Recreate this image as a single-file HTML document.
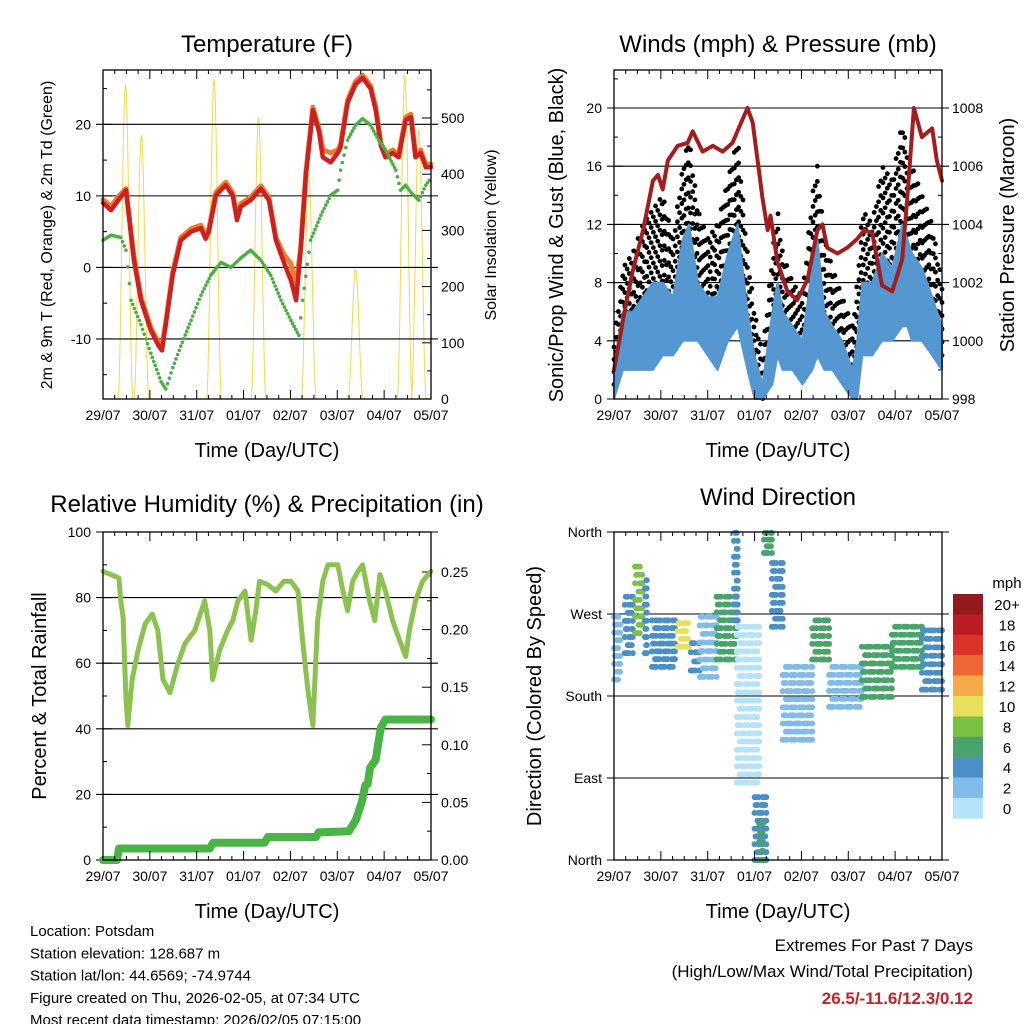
<!DOCTYPE html>
<html><head><meta charset="utf-8">
<style>
html,body{margin:0;padding:0;background:#fff;}
svg{display:block;font-family:"Liberation Sans",sans-serif;}
</style></head>
<body>
<svg id="c" width="1024" height="1024" viewBox="0 0 1024 1024" xmlns="http://www.w3.org/2000/svg"></svg>
<script>
// ---------- DATA ----------
const dayLabels = ["29/07","30/07","31/07","01/07","02/07","03/07","04/07","05/07"];
const tempT = [0,.17,.34,.49,.66,.81,1.02,1.19,1.26,1.34,1.49,1.66,1.88,2.09,2.19,2.26,2.41,2.62,2.77,2.86,2.94,3.15,3.37,3.54,3.69,3.86,4.01,4.12,4.22,4.33,4.48,4.61,4.69,4.86,5.01,5.07,5.22,5.39,5.54,5.71,5.82,5.93,6.03,6.18,6.31,6.46,6.57,6.67,6.78,6.89,7];
const tempRed = [9,8,9.5,10.8,1,-4.6,-8.8,-11,-11.6,-8,-1,3.8,5,5.5,4,5,10.1,11.5,10,6.6,8.5,9.4,11,9.4,3.8,0.7,-1.8,-4.6,2.4,12.9,22,19,15.4,14.7,16,16.8,23,25.6,26.5,25,22,17,15.4,16,15.4,20.6,21,15.4,16,14,14];
const tempOrange = [9.5,8.5,10,11,1.5,-4.2,-8.4,-10.6,-11.2,-7.6,-0.6,4.2,5.4,5.9,4.4,5.4,10.5,11.9,10.4,7,8.9,9.8,11.4,9.8,4.2,1.8,0.5,-2.5,2.8,13.3,22.4,19.4,16.5,16,16.4,17.2,23.4,26,26.9,25.4,22.4,17.4,15.8,16.4,15.8,21,21.4,15.8,16.4,14.4,14.4];
const dewT = [0,.17,.38,.49,.6,.81,1.02,1.24,1.34,1.49,1.66,1.88,2.09,2.3,2.52,2.73,2.94,3.15,3.37,3.58,3.8,4.01,4.18,4.26,4.43,4.65,4.86,5.01,5.07,5.22,5.39,5.54,5.71,5.88,6.03,6.25,6.35,6.46,6.57,6.74,6.89,7];
const dewGreen = [3.8,4.5,4.2,2.4,-4.6,-8,-12,-16,-17,-14,-11,-7.4,-3.9,-1.1,0.7,0,1.3,2.4,1,-1.1,-4.6,-7.4,-9.5,-4.6,3.8,7.3,10.1,10.8,13.6,17.8,19.9,20.8,19.9,17.8,16.4,13.6,10.8,11.5,10.5,9.4,11.5,12.5];
const solarPeakT = [0.48,0.82,2.37,3.32,4.39,5.39,6.44,6.74];
const solarPeakV = [560,470,570,500,400,230,575,480];
const presT = [0,.19,.4,.62,.83,.94,1.04,1.15,1.36,1.57,1.68,1.89,2.11,2.32,2.53,2.74,2.85,2.96,3.17,3.28,3.34,3.49,3.7,3.91,4.13,4.34,4.45,4.55,4.77,4.98,5.19,5.34,5.51,5.72,5.94,6.15,6.26,6.4,6.57,6.79,6.89,7];
const presV = [999,1000.7,1002.4,1003.8,1005.5,1005.7,1005.2,1006.2,1006.7,1006.8,1007.2,1006.5,1006.7,1006.5,1006.8,1007.6,1008,1007.5,1004.9,1003.8,1004.3,1002.7,1001.7,1001.4,1002.1,1003.8,1004,1003.2,1003,1003.2,1003.5,1003.8,1003.7,1001.9,1001.7,1002.8,1004.9,1008,1007,1007.3,1006.2,1005.5];
const windT = [0,.19,.4,.62,.83,1.04,1.26,1.47,1.6,1.79,2,2.21,2.43,2.64,2.85,3,3.17,3.38,3.49,3.6,3.81,4.02,4.23,4.34,4.49,4.66,4.87,5.09,5.19,5.3,5.51,5.72,5.94,6.15,6.26,6.36,6.57,6.79,7];
const windLo = [0,2,2,2,2,3,3,4,4,4,3,2,4,5,2,0,0,1,3,2,2,1,2,3,2,2,1,0,0,3,3,4,4,5,5,4,4,3,2];
const windHi = [2,6,6,7,8,8,7,11,12,8,7,7,10,12,6,3,1,6,8,6,5,4,9,11,6,5,4,2,4,8,8,10,9,12,11,10,9,7,5];
const gustLo = [1,4,4,4,4,5,5,6,7,6,5,4,6,7,3,1,0,2,5,4,3,2,4,5,4,3,2,1,1,5,5,6,6,8,7,6,6,5,3];
const gustHi = [4,9,10,12,13,14,11,16,18,13,11,12,15,18,10,6,3,10,13,10,8,7,14,16,11,9,7,5,8,13,12,16,15,19,17,16,14,12,8];
const rhT = [0,.17,.34,.38,.43,.49,.53,.62,.75,.9,1.05,1.17,1.28,1.43,1.6,1.75,1.96,2.17,2.28,2.34,2.49,2.66,2.77,2.88,3.03,3.16,3.26,3.34,3.51,3.69,3.86,4.01,4.16,4.26,4.37,4.48,4.58,4.69,4.8,5.01,5.12,5.22,5.33,5.44,5.54,5.69,5.8,5.91,6.03,6.18,6.33,6.46,6.54,6.67,6.82,7];
const rhV = [88,87,86,79,74,49,41,55,64,72,75,70,55,51,60,66,70,79,70,55,64,70,73,79,82,67,76,85,84,82,85,85,82,67,52,41,73,85,90,90,82,76,85,88,90,79,73,87,82,73,67,62,70,79,85,88];
const precT = [0,.3,.34,2.28,2.35,3.45,3.52,4.55,4.6,5.25,5.4,5.52,5.6,5.65,5.7,5.82,5.93,6.03,7];
const precV = [0,0,.01,.01,.015,.015,.02,.02,.024,.025,.035,.05,.065,.066,.08,.087,.115,.122,.122];
const dirT0 = [0,.23,.45,.66,.81,1.36,1.64,1.83,2.19,2.56,2.62,3.0,3.1,3.2,3.37,3.6,4.23,4.59,5.29,5.93,6.57];
const dirT1 = [.13,.4,.6,.7,1.3,1.58,1.83,2.19,2.62,2.64,3.1,3.25,3.18,3.37,3.6,4.23,4.59,5.29,5.93,6.57,7];
const dirLo = [198,227,249,227,212,234,208,201,220,263,85,0,0,337,256,132,220,168,179,212,187];
const dirHi = [267,289,322,307,263,260,238,267,289,359,256,69,40,359,326,212,263,212,234,256,252];
const dirSpd = [2,4,9,4,4,10,4,2,6,4,0,5,7,7,4,2,7,3,7,7,4];
const cbLabels = ["20+","18","16","14","12","10","8","6","4","2","0"];
const cbColors = ["#921a1d","#bb1c24","#dc3327","#ee6630","#f5aa48","#e6e05a","#7bc143","#48a46a","#4a8fc6","#80bce6","#b5e3f8"];

// ---------- HELPERS ----------
const NS="http://www.w3.org/2000/svg";
const svg=document.getElementById('c');
function mk(tag,attrs,parent){const e=document.createElementNS(NS,tag);for(const k in attrs)e.setAttribute(k,attrs[k]);(parent||svg).appendChild(e);return e;}
function txt(s,x,y,size,anchor,parent,rot){const e=mk('text',{x:x,y:y,'font-size':size,'text-anchor':anchor||'middle',fill:'#000'},parent);if(rot)e.setAttribute('transform','rotate(-90 '+x+' '+y+')');e.textContent=s;return e;}
function speedColor(s){let i=Math.min(10,Math.floor(s/2));return cbColors[10-i];}
function interp(ts,vs,t){for(let i=0;i<ts.length-1;i++){if(t<=ts[i+1]){const f=(t-ts[i])/(ts[i+1]-ts[i]);return vs[i]+(vs[i+1]-vs[i])*f;}}return vs[vs.length-1];}

function panel(name,L,R,T,B){
  const g=mk('g',{});
  
  
  return {g,L,R,T,B,x:d=>L+(R-L)*d/7};
}
function frame(p){
  const r=mk('rect',{x:p.L,y:p.T,width:p.R-p.L,height:p.B-p.T,fill:'none',stroke:'#000','stroke-width':1.3},p.g);
  
  
  for(let d=0;d<=7;d++){
    const x=p.x(d);
    mk('line',{x1:x,y1:p.B,x2:x,y2:p.B-9,stroke:'#000'},p.g);
    mk('line',{x1:x,y1:p.T,x2:x,y2:p.T+9,stroke:'#000'},p.g);
    const t=txt(dayLabels[d],x,p.B+21,14,'middle',p.g);
    
    
    if(d<7){for(let h=1;h<4;h++){const xm=p.x(d+h/4);mk('line',{x1:xm,y1:p.B,x2:xm,y2:p.B-4,stroke:'#000'},p.g);mk('line',{x1:xm,y1:p.T,x2:xm,y2:p.T+4,stroke:'#000'},p.g);}}
  }
  const xl=txt('Time (Day/UTC)',(p.L+p.R)/2,p.B+58,20,'middle',p.g);
  
  
}
function yTicks(p,vals,labels,y,side,grid,minor){
  vals.forEach((v,i)=>{
    const yy=y(v);
    if(grid) mk('line',{x1:p.L-7,y1:yy,x2:p.R+7,y2:yy,stroke:'#000','stroke-width':1.1},p.g);
    if(side==='L'){mk('line',{x1:p.L,y1:yy,x2:p.L+9,y2:yy,stroke:'#000'},p.g);
      const t=txt(labels[i],p.L-12,yy+5,14,'end',p.g);}
    else{mk('line',{x1:p.R,y1:yy,x2:p.R-9,y2:yy,stroke:'#000'},p.g);
      const t=txt(labels[i],p.R+10,yy+5,14,'start',p.g);}
  });
  (minor||[]).forEach(v=>{const yy=y(v);if(side==='L')mk('line',{x1:p.L,y1:yy,x2:p.L+4,y2:yy,stroke:'#000'},p.g);else mk('line',{x1:p.R,y1:yy,x2:p.R-4,y2:yy,stroke:'#000'},p.g);});
}
function line(p,ts,vs,y,color,w,name){
  const d=ts.map((t,i)=>(i?'L':'M')+p.x(t).toFixed(1)+','+y(vs[i]).toFixed(1)).join('');
  const e=mk('path',{d:d,fill:'none',stroke:color,'stroke-width':w,'stroke-linejoin':'round','stroke-linecap':'round'},p.g);
  
  
  return e;
}
function dots(p,ts,vs,y,color,r,name){
  const g=mk('g',{fill:color},p.g);
  
  
  for(let i=0;i<ts.length-1;i++){
    const n=Math.max(1,Math.round((ts[i+1]-ts[i])*30));
    for(let k=0;k<n;k++){const f=k/n;mk('circle',{cx:p.x(ts[i]+(ts[i+1]-ts[i])*f),cy:y(vs[i]+(vs[i+1]-vs[i])*f),r:r},g);}
  }
}
function band(p,ts,lo,hi,y,color,name){
  let d='M'+ts.map((t,i)=>p.x(t).toFixed(1)+','+y(hi[i]).toFixed(1)).join('L');
  for(let i=ts.length-1;i>=0;i--) d+='L'+p.x(ts[i]).toFixed(1)+','+y(lo[i]).toFixed(1);
  const e=mk('path',{d:d+'Z',fill:color,stroke:color,'stroke-width':2,'stroke-linejoin':'round'},p.g);
  
  
}

// ---------- TEMPERATURE ----------
{
const p=panel('temperature-panel',103,431,70,399);
const y=v=>399-(v+18.4)*(329/46);
const ys=v=>399-v*0.562;
const t=txt('Temperature (F)',267,52,24,'middle',p.g);
const sg=mk('g',{},p.g);


solarPeakT.forEach((pt,i)=>{
  let d='';for(let k=0;k<=24;k++){const tt=pt-0.16+0.32*k/24;const v=solarPeakV[i]*Math.pow(Math.sin(Math.PI*k/24),2);d+=(k?'L':'M')+p.x(tt).toFixed(1)+','+ys(v).toFixed(1);}
  const e=mk('path',{d:d,fill:'none',stroke:'#f3d84a','stroke-width':1},sg);
  
  
});
yTicks(p,[-10,0,10,20],['-10','0','10','20'],y,'L',true,[-15,-5,5,15,25]);
yTicks(p,[0,100,200,300,400,500],['0','100','200','300','400','500'],ys,'R',false,[50,150,250,350,450,550]);
line(p,tempT,tempOrange,y,'#ee7a30',5,'orange-9m-temp-line');
line(p,tempT,tempRed,y,'#d01f1f',4.5,'red-2m-temp-line');
dots(p,dewT,dewGreen,y,'#4caf45',1.8,'green-dewpoint-series');
frame(p);
const a=txt('2m & 9m T (Red, Orange) & 2m Td (Green)',52,235,16,'middle',p.g,true);
const b=txt('Solar Insolation (Yellow)',496,235,16,'middle',p.g,true);
}
// ---------- WINDS ----------
{
const p=panel('winds-panel',614,942,70,399);
const y=v=>399-v*14.55;
const yp=v=>399-(v-998)*29.1;
const t=txt('Winds (mph) & Pressure (mb)',778,52,24,'middle',p.g);
yTicks(p,[0,4,8,12,16,20],['0','4','8','12','16','20'],y,'L',true,[2,6,10,14,18,22]);
yTicks(p,[998,1000,1002,1004,1006,1008],['998','1000','1002','1004','1006','1008'],yp,'R',false,[999,1001,1003,1005,1007]);
// gust dots
const gg=mk('g',{fill:'#000'},p.g);


const N=150;
for(let k=0;k<=N;k++){
  const tt=7*k/N;
  const lo=interp(windT,gustLo,tt),hi=interp(windT,gustHi,tt);
  const n=Math.max(2,Math.round((hi-lo)/1.1));
  for(let j=0;j<=n;j++){
    const v=lo+(hi-lo)*((j+(k%2)*0.5)/(n+0.5));
    mk('circle',{cx:p.x(tt),cy:y(v),r:2.4},gg);
  }
}
band(p,windT,windLo,windHi,y,'#5597d0','sonic-wind-band');
line(p,presT,presV,yp,'#a31d1d',4,'pressure-line');
frame(p);
const a=txt('Sonic/Prop Wind & Gust (Blue, Black)',563,235,20,'middle',p.g,true);
const b=txt('Station Pressure (Maroon)',1014,235,20,'middle',p.g,true);
}
// ---------- RH & PRECIP ----------
{
const p=panel('humidity-precip-panel',103,431,532,860);
const y=v=>860-v*3.28;
const yr=v=>860-v*1152;
const t=txt('Relative Humidity (%) & Precipitation (in)',267,512,24,'middle',p.g);
yTicks(p,[0,20,40,60,80,100],['0','20','40','60','80','100'],y,'L',true,[10,30,50,70,90]);
yTicks(p,[0,.05,.1,.15,.2,.25],['0.00','0.05','0.10','0.15','0.20','0.25'],yr,'R',false,[.025,.075,.125,.175,.225]);
line(p,rhT,rhV,y,'#8cc350',5,'relative-humidity-line');
line(p,precT,precV,yr,'#4bb446',8,'precipitation-line');
frame(p);
const a=txt('Percent & Total Rainfall',46,696,20,'middle',p.g,true);
}
// ---------- WIND DIRECTION ----------
{
const p=panel('wind-direction-panel',614,942,532,860);
const y=v=>860-v*328/360;
const t=txt('Wind Direction',778,505,24,'middle',p.g);
yTicks(p,[0,90,180,270,360],['North','East','South','West','North'],y,'L',true,[]);
const sg=mk('g',{},p.g);


dirT0.forEach((t0,i)=>{
  const nx=Math.max(2,Math.round((dirT1[i]-t0)*22)),ny=Math.max(3,Math.round((dirHi[i]-dirLo[i])/9));
  for(let a=0;a<=nx;a++)for(let b=0;b<=ny;b++){
    if((a*3+b*5)%4===1)continue;
    const dx=(b%2)*0.5/nx;
    const c=mk('circle',{cx:p.x(t0+(dirT1[i]-t0)*Math.min(1,a/nx+dx)),cy:y(dirLo[i]+(dirHi[i]-dirLo[i])*b/ny),r:3,fill:speedColor(dirSpd[i])},sg);
    
    
  }
});
frame(p);
const a=txt('Direction (Colored By Speed)',541,696,20,'middle',p.g,true);
const cb=mk('g',{},svg);


const m=txt('mph',1007,588,15,'middle',cb);
cbLabels.forEach((l,i)=>{
  const yy=594+i*20.4;
  const r=mk('rect',{x:953,y:yy,width:30,height:20.6,fill:cbColors[i]},cb);
  
  
  const tt=txt(l,1007,yy+16,15,'middle',cb);
});
}
// ---------- FOOTER ----------
const info=["Location: Potsdam","Station elevation: 128.687 m","Station lat/lon: 44.6569; -74.9744","Figure created on Thu, 2026-02-05, at 07:34 UTC","Most recent data timestamp: 2026/02/05 07:15:00"];
info.forEach((s,i)=>{const e=txt(s,30,936+i*22.3,15,'start');});
const e1=txt('Extremes For Past 7 Days',973,951,17,'end');
const e2=txt('(High/Low/Max Wind/Total Precipitation)',973,977,17,'end');
const e3=txt('26.5/-11.6/12.3/0.12',973,1004,17,'end');e3.setAttribute('fill','#c8202a');e3.setAttribute('font-weight','bold');
</script>
</body></html>
